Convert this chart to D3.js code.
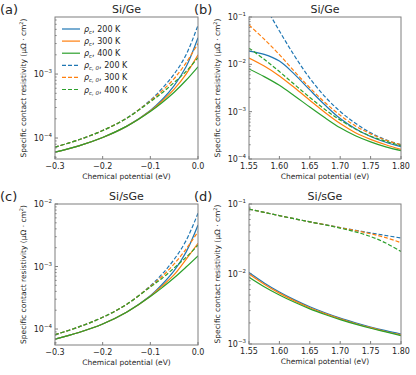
<!DOCTYPE html>
<html>
<head>
<meta charset="utf-8">
<script src="https://cdn.jsdelivr.net/npm/d3@7"></script>
<style>
  body { margin: 0; background: #fff; }
  svg { display: block; font-family: "DejaVu Sans", sans-serif; }
</style>
</head>
<body>
<div id="chart"></div>
<script>
// chemical potential grids
const muLow = [-0.3, -0.25, -0.2, -0.15, -0.1, -0.075, -0.05, -0.025, 0];
const muHigh = [1.55, 1.575, 1.60, 1.625, 1.65, 1.675, 1.70, 1.725, 1.75, 1.775, 1.80];
const temps = [200, 300, 400];

// (a) Si/Ge, low mu
const a_rc200 = [6.0e-5, 7.55e-5, 1.02e-4, 1.52e-4, 2.7e-4, 4.0e-4, 6.6e-4, 1.3e-3, 3.7e-3];
const a_rc300 = [6.0e-5, 7.55e-5, 1.02e-4, 1.52e-4, 2.65e-4, 3.8e-4, 5.8e-4, 1.0e-3, 2.0e-3];
const a_rc400 = [6.0e-5, 7.55e-5, 1.02e-4, 1.52e-4, 2.6e-4, 3.6e-4, 5.2e-4, 8.0e-4, 1.3e-3];
const a_r0200 = [7.2e-5, 9.4e-5, 1.31e-4, 2.03e-4, 3.9e-4, 6.0e-4, 1.0e-3, 2.0e-3, 5.8e-3];
const a_r0300 = [7.2e-5, 9.4e-5, 1.31e-4, 2.03e-4, 3.8e-4, 5.5e-4, 8.5e-4, 1.5e-3, 3.0e-3];
const a_r0400 = [7.2e-5, 9.4e-5, 1.31e-4, 2.03e-4, 3.7e-4, 5.1e-4, 7.4e-4, 1.1e-3, 1.8e-3];

// (b) Si/Ge, high mu
const b_rc200 = [1.9e-2, 1.62e-2, 1.17e-2, 6.15e-3, 2.88e-3, 1.38e-3, 7.14e-4, 4.36e-4, 2.98e-4, 2.26e-4, 1.82e-4];
const b_rc300 = [1.36e-2, 9.2e-3, 5.7e-3, 3.2e-3, 1.74e-3, 9.6e-4, 5.6e-4, 3.6e-4, 2.6e-4, 2.0e-4, 1.6e-4];
const b_rc400 = [8.0e-3, 5.5e-3, 3.6e-3, 2.15e-3, 1.25e-3, 7.4e-4, 4.55e-4, 3.1e-4, 2.3e-4, 1.8e-4, 1.5e-4];
const b_r0200 = [0.668, 0.184, 5.07e-2, 1.5e-2, 5.07e-3, 2.07e-3, 1.01e-3, 5.69e-4, 3.59e-4, 2.54e-4, 2.0e-4];
const b_r0300 = [6.8e-2, 3.4e-2, 1.6e-2, 7.0e-3, 3.2e-3, 1.56e-3, 8.4e-4, 5.0e-4, 3.4e-4, 2.5e-4, 2.0e-4];
const b_r0400 = [2.2e-2, 1.28e-2, 7.03e-3, 3.73e-3, 2.0e-3, 1.11e-3, 6.64e-4, 4.29e-4, 3.03e-4, 2.36e-4, 1.91e-4];

// (c) Si/sGe, low mu
const c_rc200 = [6.9e-5, 8.8e-5, 1.2e-4, 1.85e-4, 3.4e-4, 5.2e-4, 8.6e-4, 1.7e-3, 4.6e-3];
const c_rc300 = [6.9e-5, 8.8e-5, 1.2e-4, 1.85e-4, 3.35e-4, 4.9e-4, 7.4e-4, 1.3e-3, 2.35e-3];
const c_rc400 = [6.9e-5, 8.8e-5, 1.2e-4, 1.85e-4, 3.3e-4, 4.6e-4, 6.6e-4, 9.8e-4, 1.48e-3];
const c_r0200 = [8.1e-5, 1.08e-4, 1.54e-4, 2.47e-4, 4.9e-4, 7.6e-4, 1.3e-3, 2.6e-3, 7.1e-3];
const c_r0300 = [8.1e-5, 1.08e-4, 1.54e-4, 2.47e-4, 4.8e-4, 7.0e-4, 1.1e-3, 1.9e-3, 3.6e-3];
const c_r0400 = [8.1e-5, 1.08e-4, 1.54e-4, 2.47e-4, 4.7e-4, 6.5e-4, 9.5e-4, 1.4e-3, 2.2e-3];

// (d) Si/sGe, high mu
const d_rc200 = [1.05e-2, 7.46e-3, 5.53e-3, 4.27e-3, 3.40e-3, 2.79e-3, 2.34e-3, 2.01e-3, 1.75e-3, 1.55e-3, 1.39e-3];
const d_rc300 = [1.0e-2, 7.16e-3, 5.33e-3, 4.13e-3, 3.30e-3, 2.72e-3, 2.29e-3, 1.96e-3, 1.71e-3, 1.51e-3, 1.35e-3];
const d_rc400 = [9.0e-3, 6.59e-3, 5.01e-3, 3.94e-3, 3.18e-3, 2.64e-3, 2.23e-3, 1.92e-3, 1.68e-3, 1.49e-3, 1.32e-3];
const d_r0200 = [8.49e-2, 7.59e-2, 6.81e-2, 6.14e-2, 5.56e-2, 5.06e-2, 4.61e-2, 4.22e-2, 3.86e-2, 3.55e-2, 3.27e-2];
const d_r0300 = [8.49e-2, 7.59e-2, 6.81e-2, 6.14e-2, 5.56e-2, 5.06e-2, 4.59e-2, 4.17e-2, 3.76e-2, 3.31e-2, 2.8e-2];
const d_r0400 = [8.49e-2, 7.59e-2, 6.81e-2, 6.14e-2, 5.56e-2, 5.04e-2, 4.52e-2, 4.0e-2, 3.43e-2, 2.77e-2, 2.1e-2];

const colors = { 200: "#1f77b4", 300: "#ff7f0e", 400: "#2ca02c" };

const panels = [
    { tag: "(a)", title: "Si/Ge", mu: muLow, left: 55, right: 198, top: 17, bottom: 159,
      ydom: [4.7e-5, 7.8e-3], xdom: [-0.3, 0], xticks: [-0.3, -0.2, -0.1, 0], fmt: ".1f",
      rc: [a_rc200, a_rc300, a_rc400], r0: [a_r0200, a_r0300, a_r0400], legend: true },
    { tag: "(b)", title: "Si/Ge", mu: muHigh, left: 249, right: 401, top: 17, bottom: 159,
      ydom: [1e-4, 1e-1], xdom: [1.55, 1.80], xticks: [1.55, 1.60, 1.65, 1.70, 1.75, 1.80], fmt: ".2f",
      rc: [b_rc200, b_rc300, b_rc400], r0: [b_r0200, b_r0300, b_r0400] },
    { tag: "(c)", title: "Si/sGe", mu: muLow, left: 55, right: 198, top: 204, bottom: 345,
      ydom: [5.55e-5, 1e-2], xdom: [-0.3, 0], xticks: [-0.3, -0.2, -0.1, 0], fmt: ".1f",
      rc: [c_rc200, c_rc300, c_rc400], r0: [c_r0200, c_r0300, c_r0400] },
    { tag: "(d)", title: "Si/sGe", mu: muHigh, left: 249, right: 401, top: 204, bottom: 344,
      ydom: [1e-3, 1e-1], xdom: [1.55, 1.80], xticks: [1.55, 1.60, 1.65, 1.70, 1.75, 1.80], fmt: ".2f",
      rc: [d_rc200, d_rc300, d_rc400], r0: [d_r0200, d_r0300, d_r0400] }
];

const svg = d3.select("#chart").append("svg")
    .attr("width", 416)
    .attr("height", 375);

const spine = "#7f7f7f";
const textColor = "#262626";

panels.forEach((p, i) => {
    const x = d3.scaleLinear().domain(p.xdom).range([p.left, p.right]);
    const y = d3.scaleLog().domain(p.ydom).range([p.bottom, p.top]);
    const g = svg.append("g");

    const clipId = "clip" + i;
    svg.append("clipPath").attr("id", clipId)
        .append("rect")
        .attr("x", p.left).attr("y", p.top)
        .attr("width", p.right - p.left).attr("height", p.bottom - p.top);

    const line = d3.line()
        .x((d, k) => x(p.mu[k]))
        .y(d => y(d))
        .curve(d3.curveCatmullRom.alpha(0.5));

    const lines = g.append("g").attr("clip-path", `url(#${clipId})`);
    p.rc.forEach((vals, k) => {
        lines.append("path").datum(vals)
            .attr("d", line)
            .attr("fill", "none")
            .attr("stroke", colors[temps[k]])
            .attr("stroke-width", 1.2);
    });
    p.r0.forEach((vals, k) => {
        lines.append("path").datum(vals)
            .attr("d", line)
            .attr("fill", "none")
            .attr("stroke", colors[temps[k]])
            .attr("stroke-width", 1.2)
            .attr("stroke-dasharray", "4,2");
    });

    // frame
    g.append("rect")
        .attr("x", p.left).attr("y", p.top)
        .attr("width", p.right - p.left).attr("height", p.bottom - p.top)
        .attr("fill", "none").attr("stroke", spine).attr("stroke-width", 1);

    // x ticks (inward)
    const fmt = d3.format(p.fmt);
    p.xticks.forEach(t => {
        g.append("line")
            .attr("x1", x(t)).attr("x2", x(t))
            .attr("y1", p.bottom).attr("y2", p.bottom - 3)
            .attr("stroke", spine);
        g.append("text")
            .attr("x", x(t)).attr("y", p.bottom + 10)
            .attr("text-anchor", "middle")
            .attr("font-size", 8)
            .attr("fill", textColor)
            .text(fmt(t));
    });

    // y log ticks
    const lo = Math.floor(Math.log10(p.ydom[0]));
    const hi = Math.ceil(Math.log10(p.ydom[1]));
    for (let e = lo; e <= hi; e++) {
        for (let m = 1; m <= 9; m++) {
            const v = m * Math.pow(10, e);
            if (v < p.ydom[0] * 0.999 || v > p.ydom[1] * 1.001) continue;
            g.append("line")
                .attr("x1", p.left).attr("x2", p.left + (m === 1 ? 3 : 1.6))
                .attr("y1", y(v)).attr("y2", y(v))
                .attr("stroke", spine);
            if (m === 1) {
                const lab = g.append("text")
                    .attr("x", p.left - 3).attr("y", y(v) + 3)
                    .attr("text-anchor", "end")
                    .attr("font-size", 8)
                    .attr("fill", textColor);
                lab.append("tspan").text("10");
                lab.append("tspan").attr("dy", -4).attr("font-size", 5.5).text("\u2212" + Math.abs(e));
            }
        }
    }

    // axis labels
    g.append("text")
        .attr("x", (p.left + p.right) / 2).attr("y", p.bottom + 20)
        .attr("text-anchor", "middle")
        .attr("font-size", 7.5)
        .attr("fill", textColor)
        .text("Chemical potential (eV)");
    const yl = g.append("text")
        .attr("transform", `translate(${p.left - 29},${(p.top + p.bottom) / 2}) rotate(-90)`)
        .attr("text-anchor", "middle")
        .attr("font-size", 7.5)
        .attr("fill", textColor);
    yl.append("tspan").text("Specific contact resistivity (\u03bc\u03a9 \u00b7 cm");
    yl.append("tspan").attr("dy", -3).attr("font-size", 5).text("2");
    yl.append("tspan").attr("dy", 3).text(")");

    // title and panel tag
    g.append("text")
        .attr("x", (p.left + p.right) / 2).attr("y", p.top - 4)
        .attr("text-anchor", "middle")
        .attr("font-size", 11)
        .attr("fill", textColor)
        .text(p.title);
    g.append("text")
        .attr("x", p.left - 55).attr("y", p.top - 3)
        .attr("font-size", 13)
        .attr("fill", textColor)
        .text(p.tag);

    if (p.legend) {
        const labels = [];
        temps.forEach(t => labels.push({ t, sub: "c", dash: false }));
        temps.forEach(t => labels.push({ t, sub: "c, 0", dash: true }));
        labels.forEach((d, k) => {
            const ly = p.top + 12 + k * 12.1;
            g.append("line")
                .attr("x1", p.left + 7).attr("x2", p.left + 25)
                .attr("y1", ly).attr("y2", ly)
                .attr("stroke", colors[d.t])
                .attr("stroke-width", 1.2)
                .attr("stroke-dasharray", d.dash ? "4,2" : null);
            const tx = g.append("text")
                .attr("x", p.left + 29).attr("y", ly + 3)
                .attr("font-size", 8)
                .attr("fill", textColor);
            tx.append("tspan").attr("font-style", "italic").text("\u03c1");
            tx.append("tspan").attr("dy", 2).attr("font-size", 5.5).attr("font-style", "italic").text(d.sub);
            tx.append("tspan").attr("dy", -2).text(`, ${d.t} K`);
        });
    }
});
</script>
</body>
</html>
